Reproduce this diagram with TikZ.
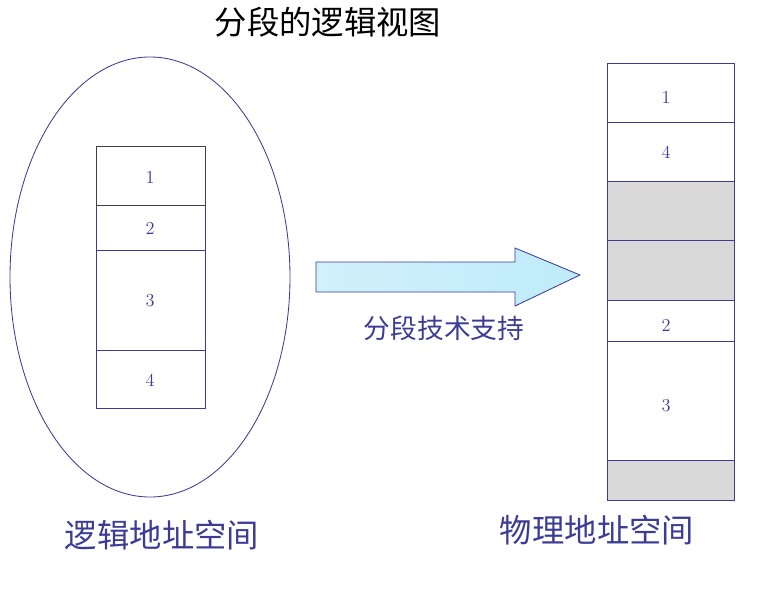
\documentclass[tikz,border=0pt]{standalone}
\usepackage{fontspec}
\newfontfamily\cjk{Noto Sans CJK SC}
\usetikzlibrary{shapes.arrows}
\definecolor{segblue}{RGB}{60,60,150}
\definecolor{seggray}{RGB}{217,217,217}
\definecolor{arrowfill}{RGB}{190,235,250}
\tikzset{
  seg/.style={draw=segblue, line width=0.6pt},
  num/.style={text=segblue, font=\fontsize{13}{13}\selectfont},
  spacelabel/.style={text=segblue, font=\cjk\fontsize{23}{23}\selectfont},
}
\begin{document}
\begin{tikzpicture}[x=0.025cm, y=-0.025cm]
    \useasboundingbox (0, 0) rectangle (775, 592);
    \node[font=\cjk\fontsize{23}{23}\selectfont] (title) at (328, 22) {分段的逻辑视图};

    % logical view
    \draw[seg] (150, 277) ellipse (140 and 220);
    \draw[seg] (96, 205) rectangle (205, 250);
    \draw[seg] (96, 250) rectangle (205, 350);
    \draw[seg] (96, 350) rectangle (205, 408);
    \draw[draw=black!75, line width=0.6pt] (96, 146) rectangle (205, 205);
    \node[num] (l1) at (150, 177) {1};
    \node[num] (l2) at (150, 228) {2};
    \node[num] (l3) at (150, 301) {3};
    \node[num] (l4) at (150, 380) {4};
    \node[spacelabel] (lcap) at (162, 535) {逻辑地址空间};

    % arrow
    \draw[draw=segblue, line width=0.6pt, left color=arrowfill!70, right color=arrowfill]
        (316, 262) -- (515, 262) -- (515, 248) -- (580, 275) -- (515, 306)
        -- (515, 292) -- (316, 292) -- cycle;
    \node[text=segblue, font=\cjk\fontsize{19}{19}\selectfont] (tech) at (444, 328) {分段技术支持};

    % physical memory
    \fill[seggray] (607, 181) rectangle (734, 300);
    \fill[seggray] (607, 460) rectangle (734, 500);
    \foreach \ya/\yb in {63/122, 122/181, 181/240, 240/300, 300/341, 341/460, 460/500}
        \draw[seg] (607, \ya) rectangle (734, \yb);
    \node[num] (p1) at (666, 97) {1};
    \node[num] (p4) at (666, 152) {4};
    \node[num] (p2) at (666, 325) {2};
    \node[num] (p3) at (666, 406) {3};
    \node[spacelabel] (pcap) at (597, 530) {物理地址空间};
\end{tikzpicture}
\end{document}
